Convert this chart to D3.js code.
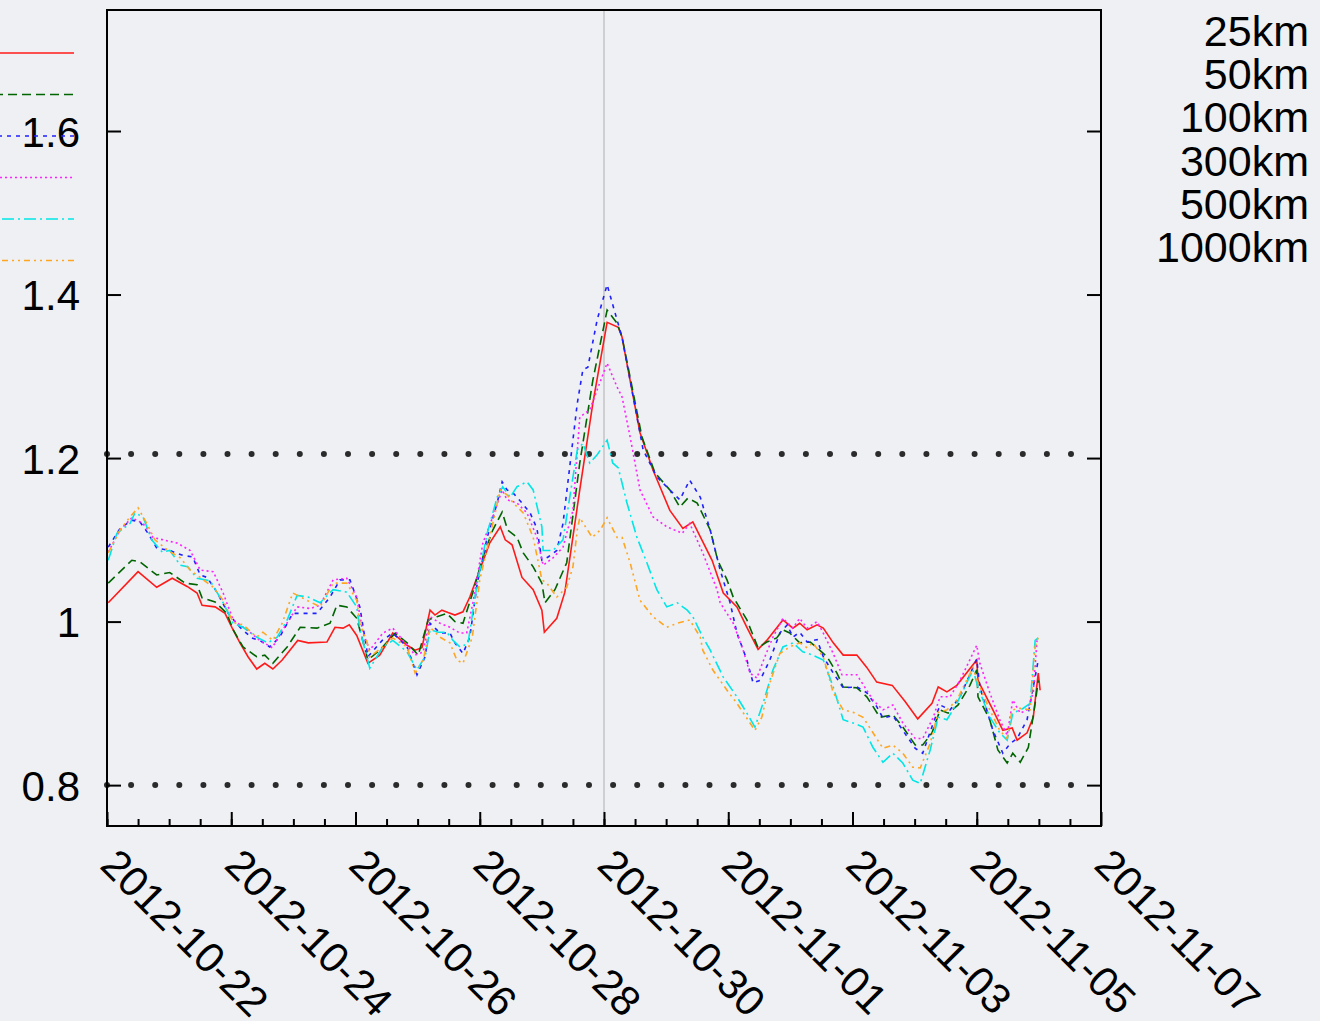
<!DOCTYPE html>
<html>
<head>
<meta charset="utf-8">
<script src="https://cdn.jsdelivr.net/npm/d3@7"></script>
<style>
  html, body { margin: 0; padding: 0; background: #eef0f3; }
  svg { display: block; font-family: "Liberation Sans", Arial, Helvetica, sans-serif; }
</style>
</head>
<body>
<div id="chart"></div>
<script>
// Time span of the plot and the marked day
var startDate = '2012-10-22';
var endDate = '2012-11-07';
var markerDate = '2012-10-30';

// Tick labels
var tickDates = ['2012-10-22', '2012-10-24', '2012-10-26', '2012-10-28', '2012-10-30',
                 '2012-11-01', '2012-11-03', '2012-11-05', '2012-11-07'];
var yTicks = [0.8, 1, 1.2, 1.4, 1.6];

// Dotted reference levels
var refLevels = [0.8, 1.205];

// Legend keys
var seriesNames = ['25km', '50km', '100km', '300km', '500km', '1000km'];

// Series values: [days since 2012-10-22, value]
var s25km = [[0.02,1.023],[0.50,1.061],[0.80,1.042],[1.05,1.053],[1.29,1.043],[1.45,1.035],[1.53,1.020],[1.74,1.018],
  [1.90,1.010],[2.01,0.993],[2.14,0.974],[2.27,0.957],[2.41,0.942],[2.54,0.949],[2.67,0.942],[2.82,0.953],[3.07,0.977],
  [3.24,0.974],[3.54,0.975],[3.67,0.993],[3.80,0.992],[3.90,0.996],[4.02,0.983],[4.20,0.949],[4.39,0.959],[4.60,0.986],
  [4.83,0.971],[4.96,0.965],[5.07,0.968],[5.20,1.014],[5.28,1.008],[5.39,1.014],[5.49,1.011],[5.60,1.008],[5.73,1.012],
  [5.84,1.030],[6.00,1.063],[6.16,1.096],[6.33,1.116],[6.41,1.100],[6.52,1.094],[6.68,1.054],[6.86,1.039],[7.00,1.014],
  [7.04,0.987],[7.24,1.004],[7.37,1.036],[7.61,1.161],[7.82,1.267],[8.05,1.366],[8.23,1.360],[8.29,1.348],[8.42,1.295],
  [8.58,1.231],[8.79,1.185],[9.06,1.136],[9.27,1.114],[9.43,1.122],[9.74,1.075],[9.92,1.035],[10.14,1.018],[10.30,0.993],
  [10.48,0.966],[10.62,0.977],[10.88,1.002],[11.04,0.992],[11.15,0.998],[11.27,0.990],[11.43,0.996],[11.53,0.992],
  [11.69,0.974],[11.85,0.959],[12.07,0.959],[12.23,0.944],[12.39,0.926],[12.64,0.922],[12.85,0.902],[13.05,0.881],
  [13.28,0.900],[13.38,0.920],[13.52,0.914],[13.68,0.922],[14.00,0.953],[14.02,0.928],[14.26,0.892],[14.42,0.867],
  [14.57,0.870],[14.65,0.855],[14.81,0.864],[14.91,0.883],[14.99,0.937],[15.02,0.916]];

var s50km = [[0.02,1.047],[0.40,1.075],[0.53,1.073],[0.80,1.057],[1.01,1.060],[1.26,1.047],[1.45,1.045],[1.53,1.029],
  [1.74,1.024],[1.93,1.010],[2.03,0.990],[2.19,0.969],[2.41,0.957],[2.54,0.959],[2.67,0.949],[2.90,0.969],[3.11,0.993],
  [3.38,0.992],[3.59,0.998],[3.70,1.020],[3.86,1.018],[4.02,1.004],[4.20,0.953],[4.39,0.965],[4.64,0.986],[4.83,0.974],
  [5.01,0.959],[5.17,1.002],[5.31,1.006],[5.47,1.010],[5.60,1.000],[5.73,0.998],[5.89,1.036],[6.05,1.079],[6.21,1.112],
  [6.36,1.134],[6.45,1.112],[6.60,1.103],[6.70,1.084],[6.86,1.067],[7.00,1.047],[7.05,1.023],[7.21,1.039],[7.40,1.072],
  [7.61,1.194],[7.82,1.295],[8.05,1.381],[8.21,1.365],[8.29,1.348],[8.42,1.299],[8.61,1.226],[8.82,1.182],[9.06,1.161],
  [9.22,1.140],[9.35,1.151],[9.50,1.145],[9.71,1.112],[9.83,1.075],[9.98,1.051],[10.08,1.030],[10.30,1.002],[10.48,0.968],
  [10.62,0.975],[10.78,0.980],[10.88,0.990],[10.99,0.986],[11.15,0.974],[11.32,0.975],[11.43,0.968],[11.59,0.957],
  [11.75,0.937],[11.85,0.920],[12.07,0.919],[12.23,0.908],[12.44,0.883],[12.65,0.886],[12.81,0.871],[13.01,0.849],
  [13.13,0.849],[13.28,0.864],[13.41,0.892],[13.54,0.888],[13.70,0.898],[13.89,0.922],[14.00,0.941],[14.02,0.908],
  [14.21,0.880],[14.34,0.843],[14.49,0.827],[14.58,0.839],[14.70,0.828],[14.83,0.846],[14.94,0.900],[14.99,0.928]];

var s100km = [[0.02,1.091],[0.21,1.114],[0.40,1.124],[0.53,1.122],[0.66,1.108],[0.80,1.090],[1.01,1.087],[1.22,1.081],
  [1.38,1.079],[1.50,1.057],[1.61,1.054],[1.77,1.036],[1.95,1.010],[2.14,0.993],[2.33,0.980],[2.46,0.977],[2.62,0.969],
  [2.78,0.981],[2.99,1.010],[3.15,1.010],[3.38,1.010],[3.59,1.030],[3.75,1.051],[3.91,1.051],[4.07,1.018],[4.20,0.957],
  [4.43,0.977],[4.60,0.986],[4.83,0.969],[4.99,0.935],[5.12,0.957],[5.20,0.998],[5.36,0.986],[5.52,0.986],[5.60,0.974],
  [5.73,0.961],[5.84,0.981],[5.96,1.047],[6.12,1.103],[6.28,1.145],[6.36,1.171],[6.44,1.161],[6.54,1.157],[6.68,1.145],
  [6.81,1.133],[6.92,1.114],[7.00,1.075],[7.10,1.079],[7.24,1.087],[7.34,1.120],[7.57,1.267],[7.66,1.308],[7.74,1.311],
  [7.89,1.369],[8.05,1.412],[8.18,1.377],[8.29,1.348],[8.42,1.295],[8.63,1.210],[8.85,1.177],[9.06,1.161],[9.22,1.149],
  [9.38,1.173],[9.55,1.152],[9.71,1.112],[9.87,1.063],[10.03,1.023],[10.14,0.986],[10.30,0.953],[10.40,0.925],
  [10.51,0.928],[10.67,0.953],[10.83,0.986],[10.95,0.996],[11.04,0.981],[11.15,0.987],[11.27,0.975],[11.43,0.978],
  [11.53,0.957],[11.69,0.937],[11.85,0.919],[12.07,0.920],[12.23,0.913],[12.39,0.896],[12.49,0.882],[12.65,0.885],
  [12.81,0.867],[13.01,0.845],[13.13,0.839],[13.30,0.876],[13.41,0.898],[13.57,0.892],[13.73,0.908],[14.00,0.954],
  [14.05,0.920],[14.26,0.867],[14.42,0.839],[14.54,0.851],[14.65,0.857],[14.81,0.880],[14.91,0.920],[14.99,0.953]];

var s300km = [[0.02,1.085],[0.21,1.112],[0.40,1.127],[0.58,1.120],[0.74,1.103],[0.90,1.100],[1.13,1.096],[1.34,1.087],
  [1.50,1.063],[1.71,1.061],[1.87,1.035],[2.03,1.002],[2.25,0.990],[2.46,0.977],[2.66,0.968],[2.83,0.990],[3.06,1.018],
  [3.27,1.016],[3.43,1.020],[3.64,1.051],[3.86,1.053],[4.02,1.030],[4.12,0.986],[4.23,0.965],[4.44,0.986],[4.60,0.992],
  [4.83,0.971],[4.96,0.959],[5.09,0.963],[5.20,1.006],[5.36,0.998],[5.52,0.993],[5.68,0.986],[5.79,0.986],[5.89,1.023],
  [6.05,1.096],[6.21,1.128],[6.36,1.161],[6.44,1.149],[6.60,1.145],[6.76,1.133],[6.92,1.103],[7.02,1.069],[7.18,1.078],
  [7.34,1.091],[7.50,1.136],[7.61,1.250],[7.77,1.259],[8.05,1.316],[8.21,1.287],[8.29,1.275],[8.42,1.226],[8.58,1.161],
  [8.79,1.128],[9.01,1.116],[9.26,1.108],[9.38,1.120],[9.59,1.084],[9.82,1.039],[9.87,1.023],[10.08,0.998],[10.24,0.965],
  [10.35,0.937],[10.46,0.931],[10.59,0.957],[10.72,0.981],[10.88,1.004],[11.04,0.992],[11.15,1.004],[11.27,0.992],
  [11.43,1.000],[11.53,0.986],[11.69,0.961],[11.83,0.935],[12.07,0.935],[12.33,0.904],[12.49,0.892],[12.65,0.898],
  [12.81,0.876],[13.01,0.857],[13.13,0.857],[13.30,0.883],[13.41,0.908],[13.57,0.908],[13.73,0.928],[14.00,0.971],
  [14.05,0.949],[14.21,0.913],[14.37,0.880],[14.49,0.861],[14.58,0.904],[14.70,0.888],[14.81,0.892],[14.91,0.913],
  [14.97,0.977]];

var s500km = [[0.02,1.075],[0.16,1.108],[0.37,1.120],[0.45,1.133],[0.58,1.128],[0.72,1.100],[0.89,1.085],[1.01,1.087],
  [1.18,1.069],[1.30,1.067],[1.45,1.053],[1.66,1.050],[1.87,1.023],[2.03,0.998],[2.19,0.993],[2.41,0.981],[2.59,0.974],
  [2.74,0.981],[2.90,1.002],[3.06,1.032],[3.24,1.030],[3.43,1.023],[3.64,1.039],[3.86,1.036],[4.02,1.018],[4.07,0.990],
  [4.23,0.943],[4.44,0.969],[4.60,0.977],[4.83,0.963],[4.99,0.941],[5.12,0.957],[5.20,0.990],[5.33,0.987],[5.47,0.987],
  [5.57,0.977],[5.68,0.969],[5.81,0.973],[5.96,1.047],[6.12,1.108],[6.28,1.152],[6.37,1.165],[6.49,1.152],[6.60,1.165],
  [6.76,1.171],[6.86,1.161],[7.00,1.116],[7.02,1.087],[7.18,1.087],[7.34,1.100],[7.57,1.210],[7.66,1.218],[7.77,1.194],
  [7.89,1.204],[8.05,1.222],[8.14,1.194],[8.23,1.188],[8.37,1.145],[8.53,1.103],[8.69,1.072],[8.85,1.039],[9.01,1.018],
  [9.18,1.023],[9.34,1.014],[9.43,1.006],[9.59,0.981],[9.71,0.965],[9.92,0.932],[10.14,0.908],[10.30,0.888],[10.43,0.871],
  [10.56,0.900],[10.72,0.941],[10.88,0.969],[11.04,0.974],[11.20,0.963],[11.36,0.959],[11.53,0.953],[11.69,0.920],
  [11.85,0.880],[12.01,0.876],[12.17,0.871],[12.33,0.846],[12.49,0.828],[12.65,0.839],[12.81,0.827],[12.97,0.806],
  [13.09,0.802],[13.25,0.843],[13.38,0.883],[13.52,0.880],[13.68,0.900],[13.94,0.941],[14.02,0.920],[14.21,0.883],
  [14.37,0.864],[14.49,0.855],[14.58,0.888],[14.75,0.894],[14.86,0.900],[14.94,0.977],[14.99,0.980]];

var s1000km = [[0.02,1.084],[0.21,1.112],[0.37,1.128],[0.50,1.139],[0.64,1.120],[0.77,1.100],[0.98,1.087],[1.18,1.078],
  [1.34,1.063],[1.50,1.054],[1.71,1.042],[1.87,1.026],[2.03,0.999],[2.19,0.996],[2.41,0.981],[2.51,0.987],[2.67,0.977],
  [2.82,0.998],[2.99,1.035],[3.22,1.026],[3.43,1.018],[3.64,1.047],[3.86,1.047],[4.02,1.026],[4.07,0.998],[4.19,0.974],
  [4.23,0.957],[4.44,0.969],[4.60,0.980],[4.83,0.969],[4.96,0.937],[5.09,0.953],[5.20,0.993],[5.36,0.981],[5.52,0.974],
  [5.63,0.953],[5.73,0.949],[5.88,0.981],[6.00,1.051],[6.16,1.103],[6.33,1.161],[6.44,1.155],[6.54,1.145],[6.70,1.133],
  [6.86,1.103],[7.00,1.051],[7.08,1.047],[7.24,1.030],[7.40,1.042],[7.50,1.067],[7.57,1.112],[7.61,1.127],[7.81,1.103],
  [7.94,1.112],[8.05,1.127],[8.21,1.103],[8.29,1.103],[8.42,1.072],[8.58,1.026],[8.79,1.006],[9.01,0.993],[9.18,0.998],
  [9.38,1.002],[9.55,0.981],[9.59,0.965],[9.75,0.941],[9.98,0.916],[10.14,0.900],[10.35,0.876],[10.43,0.867],[10.54,0.883],
  [10.67,0.925],[10.83,0.961],[10.99,0.969],[11.15,0.974],[11.27,0.968],[11.36,0.974],[11.53,0.957],[11.69,0.913],
  [11.85,0.892],[12.01,0.889],[12.17,0.883],[12.33,0.864],[12.49,0.845],[12.65,0.849],[12.81,0.839],[12.97,0.822],
  [13.09,0.821],[13.25,0.851],[13.38,0.889],[13.52,0.892],[13.68,0.904],[13.94,0.944],[14.02,0.925],[14.21,0.892],
  [14.37,0.867],[14.49,0.857],[14.57,0.892],[14.70,0.894],[14.86,0.892],[14.94,0.969],[14.99,0.981]];

var seriesValues = [s25km, s50km, s100km, s300km, s500km, s1000km];

// Styles of the six lines
var colors = ['#ff1a1a', '#006400', '#2020ff', '#ff20ff', '#00e6e6', '#ffa520'];
var dashes = [null, '9 5', '4 5', '2 3', '12 4 2 4', '6 4 2 4 2 4'];

// Chart setup
var width = 1320;
var height = 1021;
var plot = { left: 107, right: 1101, top: 10, bottom: 826 };
var fontSize = 42;
var legendFontSize = 43;

var parseDay = d3.utcParse('%Y-%m-%d');
var t0 = parseDay(startDate);
var toDate = function (d) {
  return new Date(t0.getTime() + d * 864e5);
};

var x = d3.scaleUtc()
          .domain([t0, parseDay(endDate)])
          .range([plot.left, plot.right]);
var y = d3.scaleLinear()
          .domain([0.75, 1.748])
          .range([plot.bottom, plot.top]);

var svg = d3.select('#chart')
            .append('svg')
            .attr('width', width)
            .attr('height', height);

svg.append('rect')
   .attr('width', width)
   .attr('height', height)
   .attr('fill', '#eef0f3');

// Marker line for the landfall day
svg.append('line')
   .attr('x1', x(parseDay(markerDate)))
   .attr('x2', x(parseDay(markerDate)))
   .attr('y1', plot.top)
   .attr('y2', plot.bottom)
   .attr('stroke', '#cfcfd2')
   .attr('stroke-width', 2);

// Dotted reference levels
svg.selectAll('.ref')
   .data(refLevels)
   .enter()
   .append('line')
   .attr('class', 'ref')
   .attr('x1', plot.left)
   .attr('x2', plot.right - 20)
   .attr('y1', function (d) { return y(d); })
   .attr('y2', function (d) { return y(d); })
   .attr('stroke', '#2b2b2b')
   .attr('stroke-width', 6)
   .attr('stroke-linecap', 'round')
   .attr('stroke-dasharray', '0 24.1');

// Lines
var line = d3.line()
             .x(function (d) { return x(toDate(d[0])); })
             .y(function (d) { return y(d[1]); });

svg.selectAll('.series')
   .data(seriesValues)
   .enter()
   .append('path')
   .attr('class', 'series')
   .attr('d', line)
   .attr('fill', 'none')
   .attr('stroke', function (d, i) { return colors[i]; })
   .attr('stroke-width', 1.6)
   .attr('stroke-dasharray', function (d, i) { return dashes[i]; });

// Axes
var majorTicks = tickDates.map(parseDay);
var minorTicks = d3.utcHour.every(12).range(t0, parseDay(endDate));

var styleAxis = function (g) {
  g.attr('font-family', null)
   .attr('font-size', fontSize);
  g.select('.domain').remove();
  g.selectAll('line').attr('stroke', '#000').attr('stroke-width', 2);
  g.selectAll('text').attr('fill', '#000');
};

svg.append('g')
   .attr('transform', 'translate(0,' + plot.bottom + ')')
   .call(d3.axisBottom(x).tickValues(minorTicks).tickSizeInner(-7).tickSizeOuter(0).tickFormat(''))
   .call(styleAxis);

var xAxis = svg.append('g')
               .attr('transform', 'translate(0,' + plot.bottom + ')')
               .call(d3.axisBottom(x).tickValues(majorTicks).tickSizeInner(-14).tickSizeOuter(0)
                       .tickFormat(d3.utcFormat('%Y-%m-%d')))
               .call(styleAxis);
xAxis.selectAll('text')
     .attr('x', 0)
     .attr('y', 0)
     .attr('dy', null)
     .attr('text-anchor', 'start')
     .attr('transform', 'translate(-9,41) rotate(45)');

svg.append('g')
   .attr('transform', 'translate(' + plot.left + ',0)')
   .call(d3.axisLeft(y).tickValues(yTicks).tickSizeInner(-14).tickSizeOuter(0).tickPadding(27)
           .tickFormat(d3.format('')))
   .call(styleAxis)
   .selectAll('text')
   .attr('dy', '0.36em');

svg.append('g')
   .attr('transform', 'translate(' + plot.right + ',0)')
   .call(d3.axisRight(y).tickValues(yTicks).tickSizeInner(-14).tickSizeOuter(0).tickFormat(''))
   .call(styleAxis);

// Frame
svg.append('rect')
   .attr('x', plot.left)
   .attr('y', plot.top)
   .attr('width', plot.right - plot.left)
   .attr('height', plot.bottom - plot.top)
   .attr('fill', 'none')
   .attr('stroke', '#000')
   .attr('stroke-width', 2);

// Legend: samples sit at the far left, labels at the far right
var legend = svg.append('g')
                .attr('class', 'legend');

legend.selectAll('.sample')
      .data(seriesNames)
      .enter()
      .append('line')
      .attr('class', 'sample')
      .attr('x1', -20)
      .attr('x2', 74)
      .attr('y1', function (d, i) { return 53 + i * 41.5; })
      .attr('y2', function (d, i) { return 53 + i * 41.5; })
      .attr('stroke', function (d, i) { return colors[i]; })
      .attr('stroke-width', 1.6)
      .attr('stroke-dasharray', function (d, i) { return dashes[i]; });

legend.selectAll('.label')
      .data(seriesNames)
      .enter()
      .append('text')
      .attr('class', 'label')
      .attr('x', 1309)
      .attr('y', function (d, i) { return 46 + i * 43.2; })
      .attr('text-anchor', 'end')
      .attr('font-size', legendFontSize)
      .attr('fill', '#000')
      .text(function (d) { return d; });
</script>
</body>
</html>
